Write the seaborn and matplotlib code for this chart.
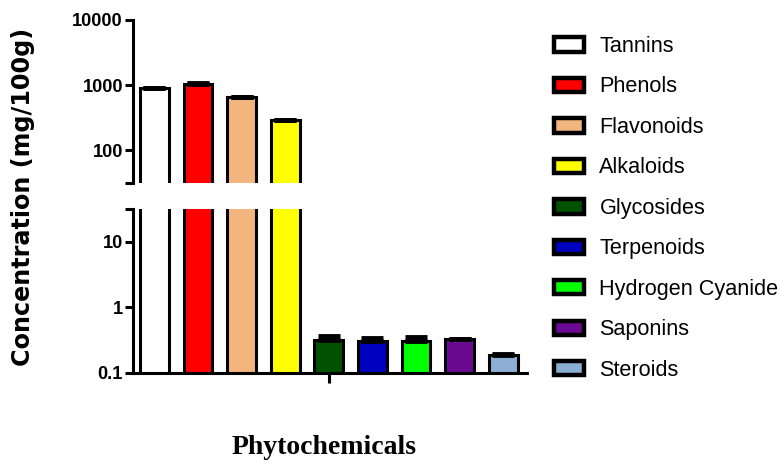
import matplotlib
matplotlib.use("Agg")
import matplotlib.pyplot as plt
import matplotlib.patches as mpatches
from matplotlib import font_manager
import seaborn as sns
import pandas as pd
import numpy as np

categories = ["Tannins", "Phenols", "Flavonoids", "Alkaloids", "Glycosides",
              "Terpenoids", "Hydrogen Cyanide", "Saponins", "Steroids"]
values = [900, 1050, 650, 285, 0.32, 0.30, 0.306, 0.327, 0.188]
errors = [0, 15, 8, 5, 0.04, 0.045, 0.04, 0.003, 0.003]
colors = ["#FFFFFF", "#FF0000", "#F2B57E", "#FFFF00", "#005200",
          "#0000C0", "#00FF00", "#6A0A90", "#8CAED4"]
top_ticks = [100, 1000, 10000]
bottom_ticks = [0.1, 1, 10]
break_value = 31.4

sns.set_theme(style="white")
avail = {f.name for f in font_manager.fontManager.ttflist}
narrow = "Liberation Sans Narrow" if "Liberation Sans Narrow" in avail else "Liberation Sans"
scale = 1.0 if narrow == "Liberation Sans Narrow" else 0.82
plt.rcParams["font.family"] = [narrow, "DejaVu Sans"]

df = pd.DataFrame({"cat": categories, "val": values})
pal = dict(zip(categories, colors))

W, H = 780, 468
fig = plt.figure(figsize=(W / 100, H / 100), dpi=100)
left = 133.3 / W
width = (526.7 - 133.3) / W
ax_top = fig.add_axes([left, 1 - 182.7 / H, width, (182.7 - 20) / H])
ax_bot = fig.add_axes([left, 1 - 372.7 / H, width, (372.7 - 209.3) / H])

lw = 2.2
for ax in (ax_top, ax_bot):
    sns.barplot(data=df, x="cat", y="val", hue="cat", palette=pal, ax=ax,
                width=0.66, edgecolor="black", linewidth=lw, legend=False,
                saturation=1, errorbar=None)
    ax.set_yscale("log", nonpositive="clip")
    ax.errorbar(np.arange(len(categories)), values,
                yerr=[np.zeros(len(errors)), errors], fmt="none",
                ecolor="black", elinewidth=3, capsize=8, capthick=3.5, zorder=3)
    ax.set_xlim(-0.484, 8.539)
    ax.set_xlabel("")
    ax.set_ylabel("")
    for s in ("top", "right"):
        ax.spines[s].set_visible(False)
    ax.spines["left"].set_linewidth(lw)
    ax.spines["left"].set_color("black")
    ax.tick_params(axis="y", which="major", direction="out", length=6, width=lw,
                   color="black", pad=1.5, left=True)
    ax.yaxis.set_minor_locator(matplotlib.ticker.NullLocator())
    ax.set_facecolor("none")

ax_top.set_ylim(break_value, 10000)
ax_top.set_yticks([break_value] + top_ticks)
ax_top.set_yticklabels([""] + [str(t) for t in top_ticks])
ax_top.spines["bottom"].set_visible(False)
ax_top.set_xticks([])

ax_bot.set_ylim(0.1, break_value)
ax_bot.set_yticks(bottom_ticks + [break_value])
ax_bot.set_yticklabels([("%g" % t) for t in bottom_ticks] + [""])
ax_bot.spines["bottom"].set_linewidth(lw)
ax_bot.spines["bottom"].set_color("black")
ax_bot.set_xticks([4])
ax_bot.set_xticklabels([""])
ax_bot.tick_params(axis="x", direction="out", length=7, width=lw, color="black", bottom=True)

for ax in (ax_top, ax_bot):
    ax.yaxis.set_minor_locator(matplotlib.ticker.NullLocator())
    for lab in ax.get_yticklabels():
        lab.set_fontfamily([narrow, "DejaVu Sans"])
        lab.set_fontweight("bold")
        lab.set_fontsize(16 * scale)
        lab.set_color("black")

fig.text(23.5 / W, 1 - 196.5 / H, "Concentration (mg/100g)", rotation=90,
         ha="center", va="center", fontsize=17.2, fontweight="bold",
         family="DejaVu Sans", color="black")
fig.text(324 / W, 1 - 448 / H, "Phytochemicals", ha="center", va="center",
         fontsize=20, fontweight="bold", family="Liberation Serif", color="black")

handles = [mpatches.Patch(facecolor=c, edgecolor="black", linewidth=3.2, label=n)
           for n, c in zip(categories, colors)]
leg = fig.legend(handles=handles, loc="upper left", bbox_to_anchor=(554 / W, 1 - 36 / H),
                 frameon=False, prop={"family": narrow, "size": 19 * scale},
                 handlelength=1.4, handleheight=0.65, handletextpad=0.7,
                 labelspacing=0.9, borderpad=0, borderaxespad=0)
for t in leg.get_texts():
    t.set_color("black")

fig.savefig("out.png", dpi=100)
